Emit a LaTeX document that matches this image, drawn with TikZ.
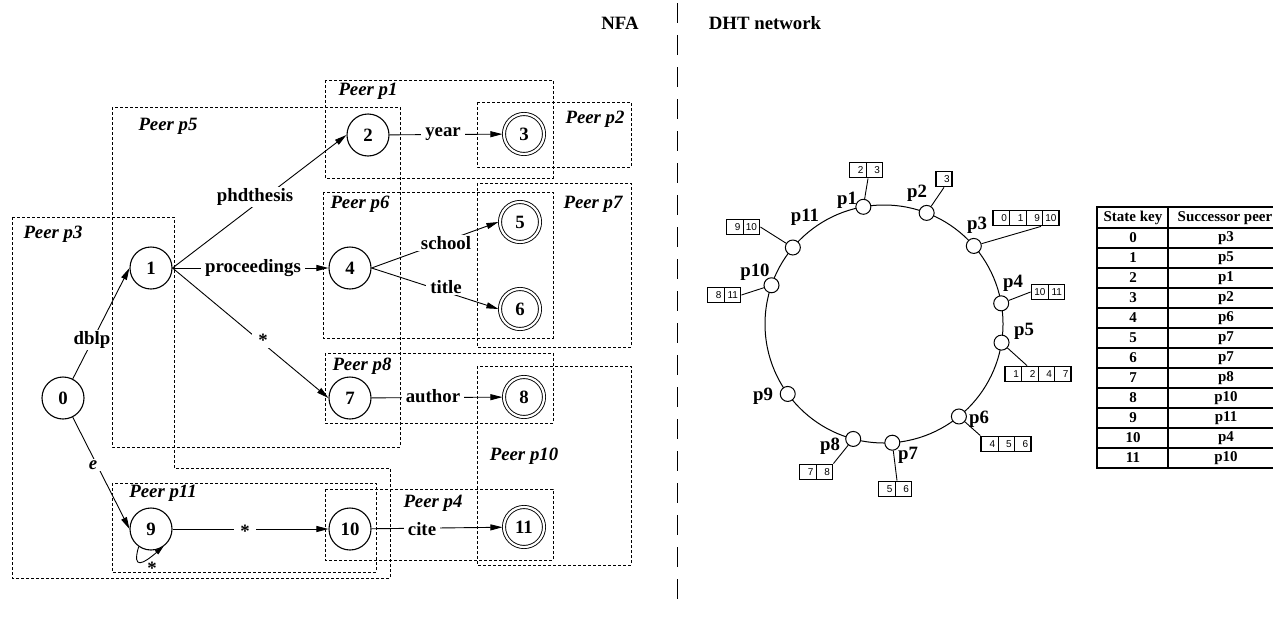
\documentclass[tikz,border=0pt]{standalone}
\usepackage{fontspec}
\setmainfont{Liberation Serif}
\newfontfamily\keyfont{Liberation Sans}
\usetikzlibrary{arrows.meta,calc}
\newcommand\kc[1]{\makebox[11.5pt][r]{#1}}
\begin{document}
\begin{tikzpicture}[x=1pt,y=-1pt,
  big/.style={font=\fontsize{18.8}{21}\selectfont\bfseries},
  st/.style={big,circle,draw,line width=1.1pt,minimum size=42pt,inner sep=0pt},
  fin/.style={st,double,double distance=2.2pt,line width=0.9pt,minimum size=40pt,outer sep=1.6pt},
  tr/.style={line width=0.9pt,-{Triangle[length=12pt,width=6pt]}},
  lab/.style={big,fill=white,inner xsep=4pt,inner ysep=1.5pt},
  star/.style={lab,inner xsep=6pt,yshift=-2.5pt},
  peer/.style={draw,dash pattern=on 3pt off 2pt,line width=0.8pt},
  plab/.style={font=\fontsize{18.8}{21}\selectfont\bfseries\itshape},
  dot/.style={circle,draw,fill=white,line width=1pt,minimum size=15pt,inner sep=0pt},
  rlab/.style={big},
  keybox/.style={draw,line width=1.8pt,inner sep=0pt,font=\keyfont\fontsize{10}{12}\selectfont},
  kline/.style={line width=0.9pt},
  tline/.style={line width=1.8pt},
  tlab/.style={font=\fontsize{15}{17}\selectfont\bfseries},
]
\useasboundingbox (0,0) rectangle (1273,621);

% titles and separator
\node[big] (tnfa) at (620,23) {NFA};
\node[big] (tdht) at (765,23) {DHT network};
\draw[dash pattern=on 20pt off 12pt,line width=1pt] (677,3) -- (677,606);

% NFA states
\node[st] (n0) at (63,398) {0};
\node[st] (n1) at (151,268) {1};
\node[st] (n2) at (368,135) {2};
\node[fin] (n3) at (524,134) {3};
\node[st] (n4) at (350,268) {4};
\node[fin] (n5) at (520,222) {5};
\node[fin] (n6) at (520,309) {6};
\node[st] (n7) at (350,398) {7};
\node[fin] (n8) at (524,397) {8};
\node[st] (n9) at (151,529) {9};
\node[st] (n10) at (350,529) {10};
\node[fin] (n11) at (524,527) {11};

% transitions
\draw[tr] (n0) -- (n1.west);
\draw[tr] (n0) -- (n9.west);
\draw[tr] (n1.east) -- (n2.west);
\draw[tr] (n1.east) -- (n4.west);
\draw[tr] (n1.east) -- (n7.west);
\draw[tr] (n2) -- (n3);
\draw[tr] (n4.east) -- (n5.west);
\draw[tr] (n4.east) -- (n6.west);
\draw[tr] (n7) -- (n8);
\draw[tr] (n9) -- (n10);
\draw[tr] (n10) -- (n11);
\draw[line width=0.9pt,-{Triangle[length=9pt,width=5pt]}] (n9.-125) .. controls +(-7,24) and +(-20,17) .. (n9.-55);

% transition labels
\node[lab] (ldblp) at (92,340) {dblp};
\node[lab] (le) at (93,465) {\itshape e};
\node[lab] (lphd) at (255,197) {phdthesis};
\node[lab] (lproc) at (253,268) {proceedings};
\node[star] (ls1) at (263,338) {*};
\node[lab] (lyear) at (443,134) {year};
\node[lab] (lschool) at (446,243) {school};
\node[lab] (ltitle) at (446,287) {title};
\node[lab] (lauth) at (433,396) {author};
\node[star] (ls2) at (245,529) {*};
\node[lab] (lcite) at (422,529) {cite};
\node[star,fill=none] (ls3) at (152,566) {*};

% peer boxes
\draw[peer] (12,217) -- (174,217) -- (174,468) -- (390,468) -- (390,578) -- (12,578) -- cycle;
\draw[peer] (112,107) rectangle (400,447);
\draw[peer] (325,80) rectangle (553,178);
\draw[peer] (477,102) rectangle (631,167);
\draw[peer] (323,192) rectangle (553,338);
\draw[peer] (477,183) rectangle (631,347);
\draw[peer] (325,353) rectangle (553,423);
\draw[peer] (477,366) rectangle (631,565);
\draw[peer] (325,489) rectangle (553,560);
\draw[peer] (112,483) rectangle (376,572);

\node[plab] (pl3) at (53,234) {Peer p3};
\node[plab] (pl5) at (168,126) {Peer p5};
\node[plab] (pl1) at (368,91) {Peer p1};
\node[plab] (pl2) at (595,119) {Peer p2};
\node[plab] (pl6) at (360,204) {Peer p6};
\node[plab] (pl7) at (593,204) {Peer p7};
\node[plab] (pl8) at (362,366) {Peer p8};
\node[plab] (pl10) at (524,456) {Peer p10};
\node[plab] (pl4) at (433,503) {Peer p4};
\node[plab] (pl11) at (163,493) {Peer p11};

% DHT ring
\coordinate (c) at (884,324);
\draw[line width=1pt] (c) circle[radius=119];
\node[dot] (p1) at ($(c)+(-100:119)$) {};
\node[dot] (p2) at ($(c)+(-69:119)$) {};
\node[dot] (p3) at ($(c)+(-41:119)$) {};
\node[dot] (p4) at ($(c)+(-10:119)$) {};
\node[dot] (p5) at ($(c)+(9:119)$) {};
\node[dot] (p6) at ($(c)+(51:119)$) {};
\node[dot] (p7) at ($(c)+(86:119)$) {};
\node[dot] (p8) at ($(c)+(105:119)$) {};
\node[dot] (p9) at ($(c)+(144:119)$) {};
\node[dot] (p10) at ($(c)+(199:119)$) {};
\node[dot] (p11) at ($(c)+(220:119)$) {};

\node[rlab] (rl1) at (847,200) {p1};
\node[rlab] (rl2) at (917,193) {p2};
\node[rlab] (rl3) at (977,225) {p3};
\node[rlab] (rl4) at (1013,283) {p4};
\node[rlab] (rl5) at (1024,331) {p5};
\node[rlab] (rl6) at (979,419) {p6};
\node[rlab] (rl7) at (908,455) {p7};
\node[rlab] (rl8) at (830,446) {p8};
\node[rlab] (rl9) at (763,396) {p9};
\node[rlab] (rl10) at (755,272) {p10};
\node[rlab] (rl11) at (805,217) {p11};

% key boxes
\setlength\tabcolsep{2.5pt}
\renewcommand\arraystretch{1.25}
\node[keybox] (k1) at (866,170) {\begin{tabular}{r|r}\kc{2}&\kc{3}\end{tabular}};
\node[keybox] (k2) at (944,179) {\begin{tabular}{r}\kc{3}\end{tabular}};
\node[keybox] (k3) at (1026,218) {\begin{tabular}{r|r|r|r}\kc{0}&\kc{1}&\kc{9}&\kc{10}\end{tabular}};
\node[keybox] (k4) at (1048,292) {\begin{tabular}{r|r}\kc{10}&\kc{11}\end{tabular}};
\node[keybox] (k5) at (1038,374) {\begin{tabular}{r|r|r|r}\kc{1}&\kc{2}&\kc{4}&\kc{7}\end{tabular}};
\node[keybox] (k6) at (1006,444) {\begin{tabular}{r|r|r}\kc{4}&\kc{5}&\kc{6}\end{tabular}};
\node[keybox] (k7) at (895,489) {\begin{tabular}{r|r}\kc{5}&\kc{6}\end{tabular}};
\node[keybox] (k8) at (816,472) {\begin{tabular}{r|r}\kc{7}&\kc{8}\end{tabular}};
\node[keybox] (k10) at (724,295) {\begin{tabular}{r|r}\kc{8}&\kc{11}\end{tabular}};
\node[keybox] (k11) at (743,227) {\begin{tabular}{r|r}\kc{9}&\kc{10}\end{tabular}};

\draw[kline] ([xshift=2pt]k1.south) -- (p1);
\draw[kline] (k2.south) -- (p2);
\draw[kline] ([xshift=15pt]k3.south) -- (p3);
\draw[kline] (k4.west) -- (p4);
\draw[kline] ([xshift=-11pt]k5.north) -- (p5);
\draw[kline] (k6.north west) -- (p6);
\draw[kline] ([xshift=2pt]k7.north) -- (p7);
\draw[kline] (k8.north east) -- (p8);
\draw[kline] (k10.east) -- (p10);
\draw[kline] (k11.east) -- (p11);

% table
\draw[tline] (1097,207) rectangle (1286,468);
\draw[tline] (1168,207) -- (1168,468);
\foreach \yy in {228,248,...,448} \draw[tline] (1097,\yy) -- (1286,\yy);
\node[tlab] (th1) at (1133,218) {State key};
\node[tlab] (th2) at (1225,218) {Successor peer};
\foreach \k/\p [count=\i from 0] in {0/p3,1/p5,2/p1,3/p2,4/p6,5/p7,6/p7,7/p8,8/p10,9/p11,10/p4,11/p10}{
  \node[tlab] (tk\i) at (1133,238+20*\i) {\k};
  \node[tlab] (tp\i) at (1226,238+20*\i) {\p};
}
\end{tikzpicture}
\end{document}
